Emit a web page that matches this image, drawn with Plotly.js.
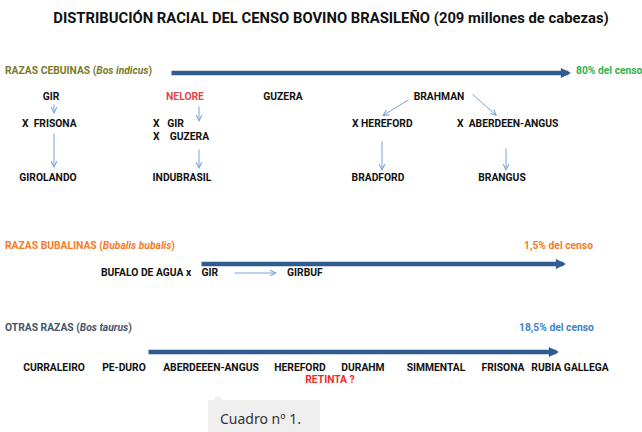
<!DOCTYPE html>
<html>
<head>
<meta charset="utf-8">
<script src="https://cdn.plot.ly/plotly-3.0.1.min.js"></script>
<style>html,body{margin:0;padding:0;background:#fff;}#chart{width:642px;height:432px;}</style>
</head>
<body>
<div id="chart"></div>
<script>
// ---------- content (data) ----------
const chartTitle = 'DISTRIBUCIÓN RACIAL DEL CENSO BOVINO BRASILEÑO (209 millones de cabezas)';
const groupNames = ['RAZAS CEBUINAS', 'RAZAS BUBALINAS', 'OTRAS RAZAS'];
const groupSpecies = ['Bos indicus', 'Bubalis bubalis', 'Bos taurus'];
const censusShare = ['80%', '1,5%', '18,5%'];
const censusSuffix = ' del censo';

const cebuBase = ['GIR', 'NELORE', 'GUZERA', 'BRAHMAN'];
const cebuCross = ['X\u00a0 FRISONA', 'X\u00a0\u00a0 GIR', 'X\u00a0\u00a0\u00a0 GUZERA', 'X HEREFORD', 'X\u00a0 ABERDEEN-ANGUS'];
const cebuResult = ['GIROLANDO', 'INDUBRASIL', 'BRADFORD', 'BRANGUS'];

const bubalCross = ['BUFALO DE AGUA x\u00a0\u00a0\u00a0 GIR'];
const bubalResult = ['GIRBUF'];

const taurusBreeds = ['CURRALEIRO', 'PE-DURO', 'ABERDEEEN-ANGUS', 'HEREFORD', 'DURAHM', 'SIMMENTAL', 'FRISONA', 'RUBIA GALLEGA'];
const taurusNote = ['RETINTA ?'];
const caption = 'Cuadro nº 1.';

// ---------- layout positions (diagram coordinates, px-like) ----------
const groupLabelX = [5, 5, 5], groupLabelY = [71, 246, 328];
const shareX = [576, 524, 519], shareY = [71, 246, 328];
const cebuBaseX = [51, 185, 283, 439], cebuBaseY = [97, 97, 97, 97];
const cebuCrossX = [22, 153, 153, 352, 457], cebuCrossY = [124, 124, 137, 124, 124];
const cebuResultX = [48, 182, 378, 502], cebuResultY = [178, 178, 178, 178];
const bubalCrossX = [101], bubalCrossY = [273];
const bubalResultX = [287], bubalResultY = [273];
const taurusX = [54, 124, 211, 300, 363, 436, 503, 570], taurusY = [368, 368, 368, 368, 368, 368, 368, 368];
const noteX = [330], noteY = [380];
// thick arrows [x0,y0,x1,y1]
const mainArrows = [[170, 73, 571, 73], [200, 264, 566, 264], [147, 352, 559, 352]];
// thin arrows [x0,y0,x1,y1]
const linkArrows = [
  [54, 103, 54, 114], [54, 132, 54, 168],
  [199, 105, 199, 122], [199, 148, 199, 169],
  [410, 99, 382, 116], [471, 93, 497, 116],
  [382, 140, 382, 171], [506, 147, 506, 171],
  [233, 273, 277, 273]
];

// ---------- styles ----------
const FONT = 'Roboto, "Liberation Sans", sans-serif';
const groupColors = ['#7a7a28', '#f47b2a', '#44546a'];
const shareColors = ['#33b04a', '#f47b2a', '#3d85c6'];
const thick = '#2f5b8e';
const thin = '#7aa3d8';
const labelSize = 10.3;

function textTrace(x, y, text, pos, color, size, bold) {
  return {
    type: 'scatter', mode: 'text', x: x, y: y,
    text: text.map(t => bold ? '<b>' + t + '</b>' : t),
    textposition: pos,
    textfont: {family: FONT, size: size, color: color},
    hoverinfo: 'skip', showlegend: false, cliponaxis: false
  };
}

const traces = [
  textTrace(groupLabelX, groupLabelY, groupNames.map((g, i) => g + ' (<i>' + groupSpecies[i] + '</i>)'), 'middle right', groupColors, 10.3, true),
  textTrace(shareX, shareY, censusShare.map(s => s + censusSuffix), 'middle right', shareColors, 10.3, true),
  textTrace(cebuBaseX, cebuBaseY, cebuBase, 'middle center', ['#111', '#e0474c', '#111', '#111'], labelSize, true),
  textTrace(cebuCrossX, cebuCrossY, cebuCross, 'middle right', '#111', labelSize, true),
  textTrace(cebuResultX, cebuResultY, cebuResult, 'middle center', '#111', labelSize, true),
  textTrace(bubalCrossX, bubalCrossY, bubalCross, 'middle right', '#111', labelSize, true),
  textTrace(bubalResultX, bubalResultY, bubalResult, 'middle right', '#111', labelSize, true),
  textTrace(taurusX, taurusY, taurusBreeds, 'middle center', '#111', labelSize, true),
  textTrace(noteX, noteY, taurusNote, 'middle center', '#ee2a2a', labelSize, true)
];

function arrow(a, color, width, head, size) {
  return {
    x: a[2], y: a[3], ax: a[0], ay: a[1], xref: 'x', yref: 'y', axref: 'x', ayref: 'y',
    text: '', showarrow: true, arrowcolor: color, arrowwidth: width,
    arrowhead: head, arrowsize: size, standoff: 0, startstandoff: 0
  };
}

const annotations = []
  .concat(mainArrows.map(a => arrow(a, thick, 4.3, 2, 0.47)))
  .concat(linkArrows.map(a => arrow(a, thin, 1, 5, 1.1)));

annotations.push({
  x: 218, y: 418, xref: 'x', yref: 'y', xanchor: 'left', yanchor: 'middle',
  text: caption, showarrow: false,
  font: {family: '"Noto Sans", "DejaVu Sans", sans-serif', size: 14, color: '#333333'}
});

const layout = {
  width: 642, height: 432,
  margin: {l: 0, r: 0, t: 0, b: 0, pad: 0},
  paper_bgcolor: '#ffffff', plot_bgcolor: '#ffffff',
  title: {
    text: '<b>' + chartTitle + '</b>',
    x: 331 / 642, xanchor: 'center', xref: 'paper',
    y: 1 - 18 / 432, yanchor: 'middle', yref: 'container',
    font: {family: FONT, size: 14.8, color: '#111111'}
  },
  xaxis: {range: [0, 642], visible: false, fixedrange: true},
  yaxis: {range: [432, 0], visible: false, fixedrange: true},
  shapes: [
    {type: 'rect', xref: 'x', yref: 'y', x0: 208, x1: 320, y0: 400, y1: 432, fillcolor: '#efefef', line: {width: 0}, layer: 'below'},
    {type: 'path', xref: 'x', yref: 'y', path: 'M 213 400.5 L 218 395 L 223 400.5 Z', fillcolor: '#efefef', line: {width: 0}, layer: 'below'}
  ],
  annotations: annotations,
  showlegend: false
};

Plotly.newPlot('chart', traces, layout, {displayModeBar: false, staticPlot: true});
</script>
</body>
</html>
